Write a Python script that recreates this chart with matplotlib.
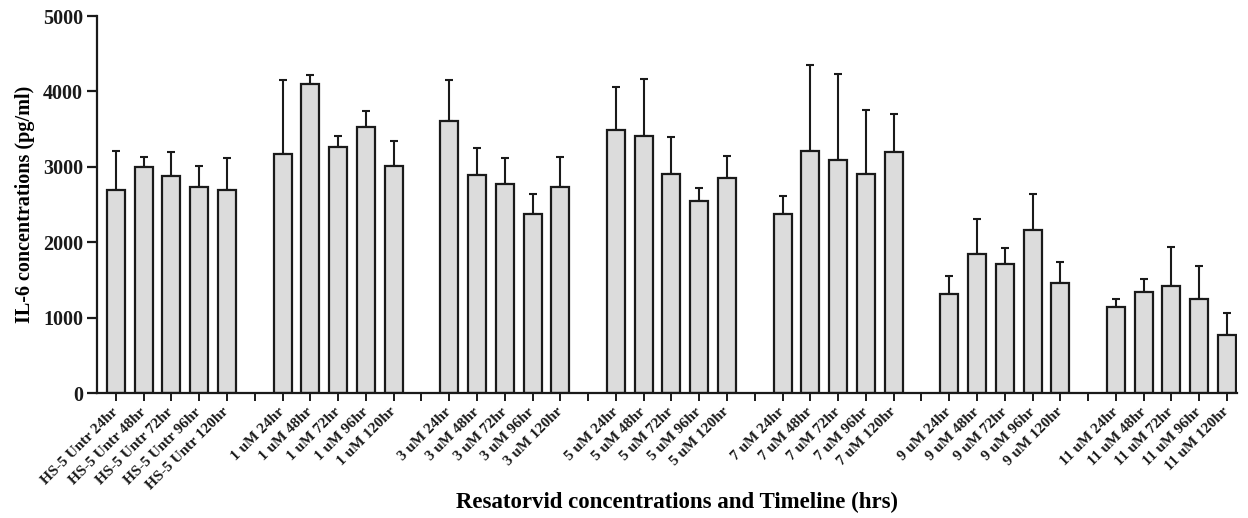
import matplotlib
matplotlib.use("Agg")
import matplotlib.pyplot as plt
import numpy as np

plt.rcParams['font.family'] = ['Liberation Serif', 'DejaVu Serif']
plt.rcParams['font.weight'] = 'bold'

groups = ["HS-5 Untr", "1 uM", "3 uM", "5 uM", "7 uM", "9 uM", "11 uM"]
times = ["24hr", "48hr", "72hr", "96hr", "120hr"]

means_hs5 = [2695, 2996, 2881, 2734, 2690]
means_1uM = [3165, 4101, 3258, 3524, 3009]
means_3uM = [3612, 2896, 2767, 2370, 2728]
means_5uM = [3493, 3404, 2909, 2542, 2856]
means_7uM = [2370, 3205, 3090, 2905, 3192]
means_9uM = [1309, 1848, 1706, 2157, 1454]
means_11uM = [1141, 1335, 1424, 1247, 774]

sd_hs5 = [518, 129, 310, 275, 426]
sd_1uM = [989, 111, 155, 213, 338]
sd_3uM = [539, 358, 350, 274, 398]
sd_5uM = [565, 756, 486, 177, 292]
sd_7uM = [243, 1150, 1136, 848, 513]
sd_9uM = [238, 464, 213, 478, 279]
sd_11uM = [106, 181, 512, 442, 291]

all_means = [means_hs5, means_1uM, means_3uM, means_5uM, means_7uM, means_9uM, means_11uM]
all_sds = [sd_hs5, sd_1uM, sd_3uM, sd_5uM, sd_7uM, sd_9uM, sd_11uM]

fig = plt.figure(figsize=(12.48, 5.18), dpi=100)
ax = fig.add_axes([0.0777, 0.2413, 0.9135, 0.7278])

tick_pos = []
tick_lab = []
pos = 0
for gi, (g, m, s) in enumerate(zip(groups, all_means, all_sds)):
    xs = np.arange(pos, pos + len(times))
    ax.bar(xs, m, width=0.65, color='#dcdcdc', edgecolor='#1a1a1a', linewidth=1.6, zorder=2)
    ax.errorbar(xs, m, yerr=[np.zeros(len(s)), s], fmt='none', ecolor='#1a1a1a',
                elinewidth=1.5, capsize=3.2, capthick=1.5, zorder=1)
    for t, x in zip(times, xs):
        tick_pos.append(x)
        tick_lab.append(f"{g} {t}")
    pos += len(times)
    if gi < len(groups) - 1:
        tick_pos.append(pos)
        tick_lab.append("")
        pos += 1

ax.set_xlim(-0.68, pos - 1 + 0.36)
ax.set_ylim(0, 5000)
ax.set_yticks([0, 1000, 2000, 3000, 4000, 5000])
ax.set_xticks(tick_pos)
ax.set_xticklabels(tick_lab, rotation=45, ha='right', va='center', rotation_mode='anchor',
                   fontsize=11, fontweight='bold')
for lab in ax.get_yticklabels():
    lab.set_fontsize(14.5)
    lab.set_fontweight('bold')

for sp in ['top', 'right']:
    ax.spines[sp].set_visible(False)
for sp in ['left', 'bottom']:
    ax.spines[sp].set_linewidth(1.6)
    ax.spines[sp].set_color('#1a1a1a')

ax.tick_params(axis='y', length=7, width=1.6, pad=3, colors='#1a1a1a')
ax.tick_params(axis='x', length=6, width=1.4, pad=6, colors='#1a1a1a')

ax.set_ylabel("IL-6 concentrations (pg/ml)", fontsize=14.5, fontweight='bold', labelpad=6)
fig.text(0.5425, 0.03, "Resatorvid concentrations and Timeline (hrs)", ha='center', va='center',
         fontsize=16.5, fontweight='bold')

fig.savefig("out.png", dpi=100)
